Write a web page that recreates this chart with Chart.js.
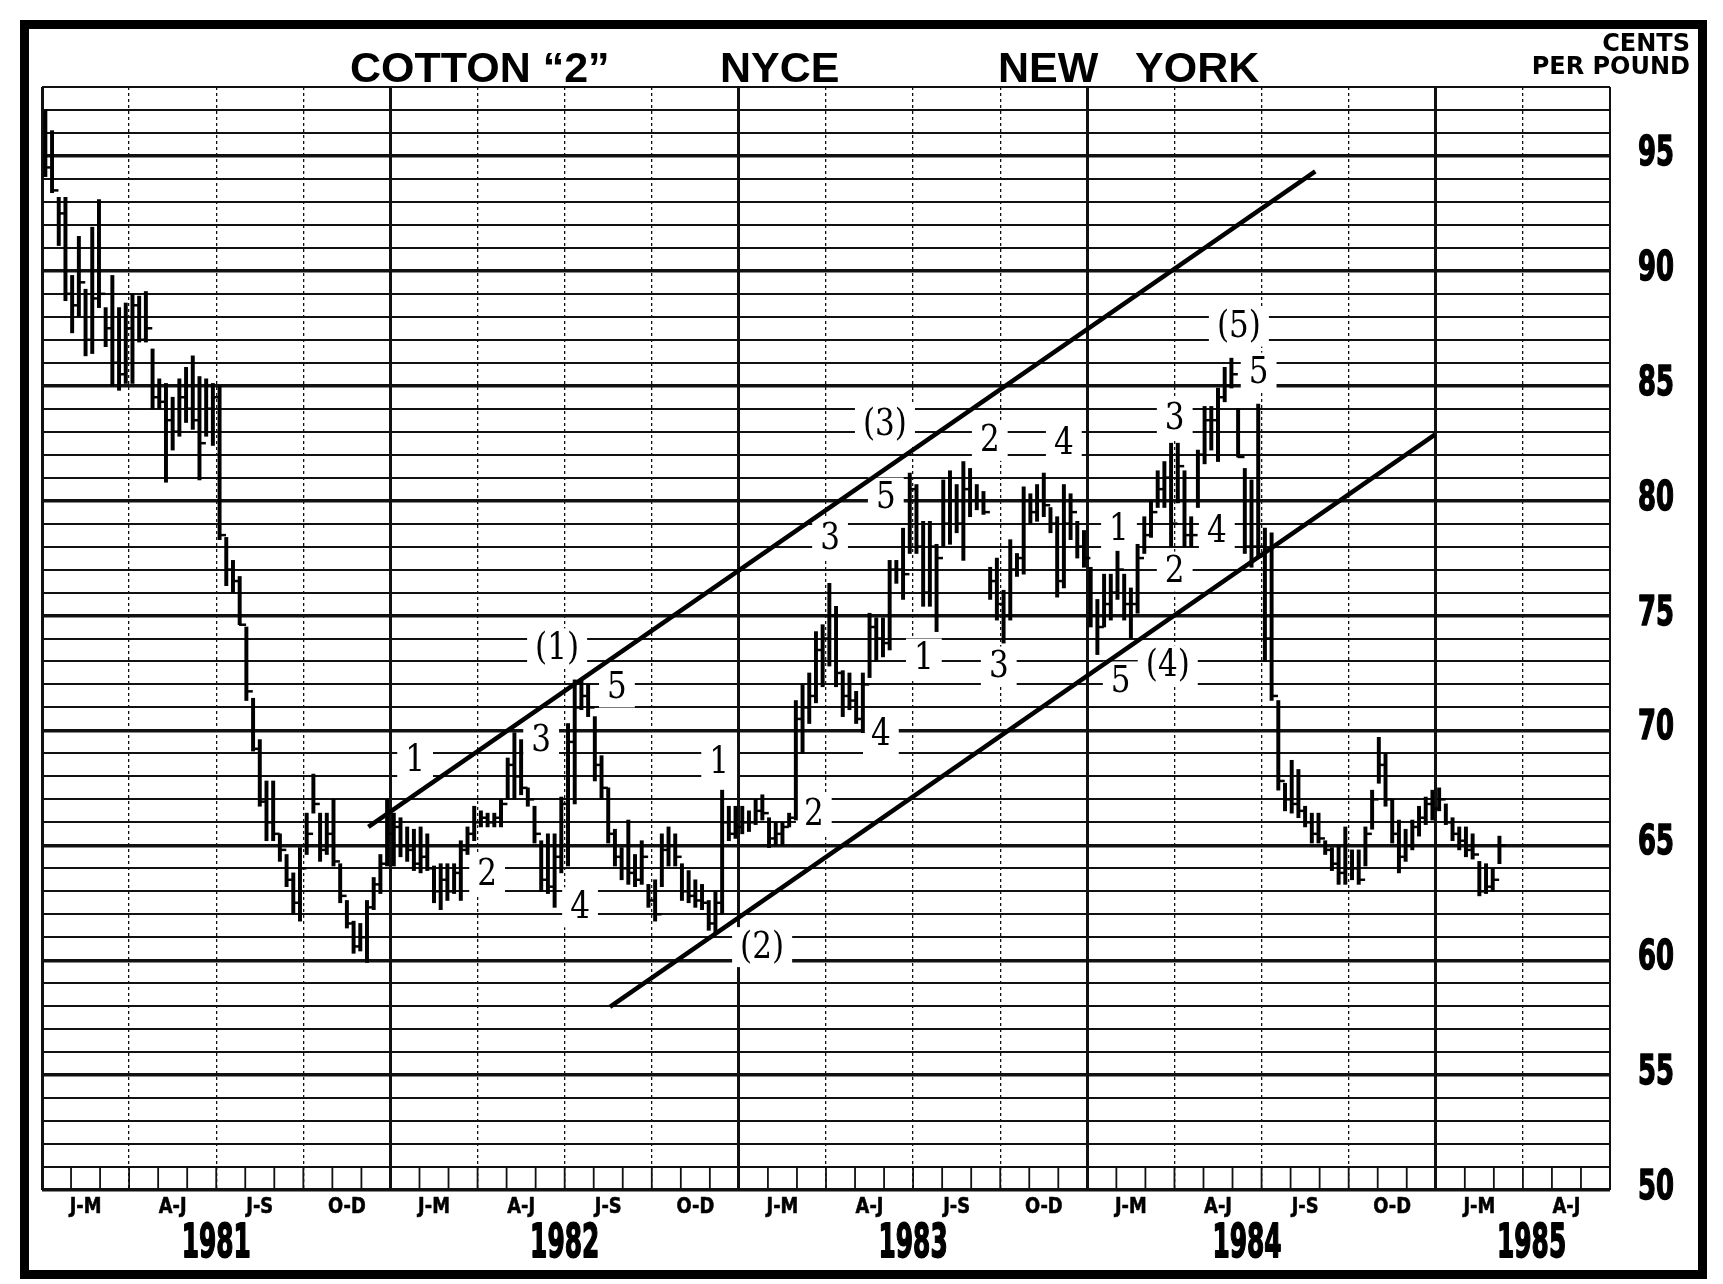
<!DOCTYPE html>
<html>
<head>
<meta charset="utf-8">
<title>Cotton "2" NYCE New York</title>
<script src="https://cdn.jsdelivr.net/npm/chart.js@4.4.1/dist/chart.umd.min.js"></script>
<style>
  html, body { margin: 0; padding: 0; background: #fff; }
  #wrap { position: relative; width: 1723px; height: 1284px; overflow: hidden; background: #fff; }
  #frame { position: absolute; left: 20px; top: 20px; width: 1687px; height: 1259px; box-sizing: border-box; border: 9px solid #000; }
  #chart { position: absolute; left: 0; top: 0; }
  .title { position: absolute; top: 46px; font: bold 43px "Liberation Sans", Arial, sans-serif; line-height: 43px; white-space: pre; color: #000; }
  #units { position: absolute; right: 33px; top: 32px; text-align: right; font: bold 24px "DejaVu Sans", sans-serif; line-height: 23px; color: #000; }
</style>
</head>
<body>
<div id="wrap">
  <div id="frame"></div>
  <canvas id="chart" width="1723" height="1284"></canvas>
  <div class="title" style="left:350px">COTTON “2”</div>
  <div class="title" style="left:720px">NYCE</div>
  <div class="title" style="left:998px">NEW</div>
  <div class="title" style="left:1135px">YORK</div>
  <div id="units">CENTS<br>PER POUND</div>
</div>
<script>
// weekly bars, first week of Jan 1981 onwards (13 weeks per quarter)
const highs = [
  97.0, 96.1, 93.2, 93.2, 89.8, 91.5, 89.2, 91.9, 93.1, 88.4, 89.8, 88.4, 88.6, // 81 J-M
  89.0, 88.9, 89.1, 86.6, 85.3, 85.1, 84.5, 85.3, 85.8, 86.3, 85.4, 85.3, 85.1, // 81 A-J
  85.0, 78.4, 77.4, 76.7, 74.5, 71.4, 69.6, 67.8, 67.8, 65.5, 64.6, 63.8, 64.9, // 81 J-S
  66.4, 68.1, 66.4, 66.4, 67.0, 64.2, 62.6, 61.7, 61.6, 62.6, 63.6, 64.6, 67.0, // 81 O-D
  66.4, 66.2, 65.8, 65.7, 65.8, 65.5, 64.1, 64.2, 64.2, 64.2, 65.2, 65.8, 66.7, // 82 J-M
  66.5, 66.4, 66.4, 67.0, 68.8, 69.9, 69.6, 67.5, 66.7, 65.2, 65.5, 65.5, 67.1, // 82 A-J
  70.3, 72.2, 72.2, 72.0, 70.6, 68.9, 67.5, 65.7, 64.9, 66.1, 64.6, 65.2, 63.3, // 82 J-S
  63.5, 65.5, 65.8, 65.5, 64.2, 63.9, 63.5, 63.3, 62.6, 63.0, 67.4, 66.7, 66.7, // 82 O-D
  66.7, 66.5, 67.0, 67.2, 66.2, 66.0, 66.0, 66.4, 71.3, 72.0, 72.5, 74.3, 74.6, // 83 J-M
  76.4, 75.4, 72.6, 72.5, 71.7, 72.5, 75.1, 74.9, 74.9, 77.4, 77.4, 78.8, 81.2, // 83 A-J
  80.7, 79.1, 79.1, 78.1, 80.9, 81.3, 80.7, 81.7, 81.4, 80.7, 80.4, 77.1, 77.5, // 83 J-S
  76.1, 78.3, 77.7, 80.6, 80.3, 80.7, 81.2, 79.7, 79.3, 80.7, 80.3, 79.1, 78.7, // 83 O-D
  77.1, 75.7, 76.8, 76.8, 77.8, 76.8, 76.2, 78.1, 79.3, 80.0, 81.3, 81.7, 82.5, // 84 J-M
  82.5, 81.3, 79.3, 82.2, 84.1, 84.1, 84.9, 85.8, 86.2, 84.0, 81.4, 80.9, 84.2, // 84 A-J
  78.8, 78.6, 71.3, 67.7, 68.7, 68.3, 66.7, 66.4, 66.4, 65.2, 64.9, 65.0, 65.8, // 84 J-S
  64.8, 64.8, 65.8, 67.4, 69.7, 69.0, 67.0, 66.1, 65.7, 66.1, 66.7, 67.1, 67.4, // 84 O-D
  67.5, 66.8, 66.2, 65.8, 65.8, 65.5, 64.3, 64.2, 64.0, 65.4                    // 85 J-M
];
const lows = [
  94.1, 93.4, 91.1, 88.7, 87.3, 88.0, 86.3, 86.4, 88.4, 86.7, 85.0, 84.8, 85.1,
  85.1, 86.9, 86.9, 84.0, 84.0, 80.8, 82.2, 82.8, 83.4, 83.1, 80.9, 82.8, 82.4,
  78.3, 76.3, 76.0, 74.6, 71.3, 69.1, 66.7, 65.2, 65.2, 64.3, 63.2, 62.0, 61.7,
  64.6, 66.4, 64.3, 64.6, 64.1, 62.5, 61.4, 60.3, 60.4, 59.9, 62.2, 62.9, 64.1,
  64.1, 64.5, 64.3, 63.9, 63.8, 63.9, 62.5, 62.2, 62.6, 62.9, 62.6, 64.6, 65.2,
  65.8, 65.8, 65.8, 65.8, 67.0, 67.0, 67.2, 66.7, 65.1, 63.0, 62.9, 62.3, 63.8,
  64.1, 66.8, 70.9, 70.6, 67.8, 67.0, 65.1, 64.1, 63.5, 63.3, 63.2, 63.3, 62.3,
  61.7, 63.2, 64.1, 64.1, 62.6, 62.5, 62.3, 62.2, 61.3, 61.2, 62.0, 65.2, 65.3,
  65.5, 65.6, 65.9, 66.1, 64.9, 65.0, 65.0, 65.8, 66.1, 69.0, 70.3, 71.2, 71.9,
  72.8, 71.9, 70.6, 70.9, 70.3, 69.9, 72.3, 73.0, 73.2, 73.5, 76.4, 75.7, 77.7,
  77.7, 75.4, 75.4, 74.3, 78.0, 78.1, 78.6, 77.4, 79.3, 79.6, 79.4, 75.7, 74.8,
  73.8, 74.8, 76.7, 76.8, 79.0, 79.1, 79.3, 78.6, 75.8, 76.2, 78.3, 77.5, 77.1,
  74.5, 73.3, 74.5, 74.8, 75.7, 74.8, 74.0, 75.1, 77.7, 78.4, 79.7, 79.7, 78.0,
  79.9, 78.0, 78.0, 79.7, 81.6, 82.2, 81.7, 84.3, 84.9, 81.9, 77.7, 77.1, 77.5,
  73.0, 71.3, 67.4, 66.5, 66.4, 66.2, 65.8, 65.1, 65.1, 64.6, 63.9, 63.3, 63.3,
  63.5, 63.3, 64.1, 65.7, 67.7, 66.7, 65.1, 63.8, 64.3, 64.8, 65.4, 65.9, 66.1,
  66.5, 65.9, 65.2, 64.8, 64.5, 64.4, 62.8, 62.9, 63.0, 64.2
];
const closes = [
  94.5, 93.5, 92.5, 89.0, 88.5, 89.5, 87.0, 88.8, 89.0, 87.5, 86.0, 85.5, 87.5,
  88.5, 87.0, 87.5, 84.5, 84.3, 83.5, 83.0, 84.5, 84.0, 83.5, 82.5, 84.0, 84.5,
  78.5, 77.0, 76.5, 74.6, 71.7, 69.2, 66.9, 66.0, 65.5, 64.8, 63.5, 62.5, 64.0,
  65.5, 66.8, 64.8, 65.5, 64.3, 62.8, 61.6, 60.6, 61.0, 62.3, 63.3, 64.2, 65.5,
  65.8, 65.0, 64.8, 64.2, 64.5, 64.0, 63.0, 63.5, 63.0, 63.8, 64.8, 65.5, 66.0,
  66.2, 66.0, 66.2, 66.8, 68.5, 68.0, 67.5, 67.0, 65.5, 63.5, 63.2, 64.5, 66.8,
  69.5, 71.0, 71.5, 71.0, 68.5, 67.5, 65.5, 64.5, 64.0, 63.8, 63.5, 64.5, 62.6,
  62.0, 64.8, 65.0, 64.5, 63.0, 62.8, 62.6, 62.5, 61.6, 62.5, 66.0, 65.5, 65.8,
  66.0, 66.0, 66.5, 66.4, 65.3, 65.5, 65.8, 66.2, 70.5, 71.0, 71.5, 73.5, 74.0,
  75.0, 72.5, 71.5, 71.3, 70.5, 72.0, 74.5, 74.0, 73.8, 77.0, 77.0, 76.8, 80.5,
  78.0, 76.0, 78.0, 77.5, 79.0, 80.0, 79.0, 80.5, 80.0, 80.0, 79.5, 76.5, 75.5,
  75.0, 77.0, 77.5, 80.0, 79.5, 80.0, 79.8, 79.0, 76.5, 79.0, 79.5, 78.0, 77.5,
  75.0, 74.5, 75.5, 76.0, 77.0, 75.5, 75.5, 77.5, 78.5, 79.5, 80.5, 81.0, 79.0,
  81.5, 78.5, 78.5, 82.0, 83.5, 83.5, 84.5, 85.0, 85.5, 81.9, 78.0, 78.0, 78.0,
  74.0, 71.5, 67.8, 67.0, 66.8, 66.5, 66.0, 65.5, 65.3, 64.8, 64.2, 63.8, 64.0,
  64.0, 63.5, 65.5, 67.0, 68.5, 67.0, 65.5, 64.5, 65.0, 65.8, 66.2, 66.8, 66.6,
  67.0, 66.0, 65.5, 65.2, 64.8, 64.6, 63.0, 63.2, 63.5, 65.0
];

const quarterLabels = ["J-M", "A-J", "J-S", "O-D", "J-M", "A-J", "J-S", "O-D", "J-M", "A-J",
  "J-S", "O-D", "J-M", "A-J", "J-S", "O-D", "J-M", "A-J"];
const yearLabels = ["1981", "1982", "1983", "1984", "1985"];
const yearCentres = [6, 18, 30, 41.5, 51.3]; // months after Jan 1981
const priceLabels = [50, 55, 60, 65, 70, 75, 80, 85, 90, 95];

// channel lines: [month, cents]
const upperChannel = [[11.24, 65.8], [43.85, 94.33]];
const lowerChannel = [[19.56, 57.97], [47.97, 82.87]];

// wave counts: [text, month, cents]
const waveLabels = [
  ["1", 12.85, 68.7], ["2", 15.33, 63.74], ["3", 17.19, 69.57], ["(1)", 17.74, 73.57],
  ["5", 19.8, 71.87], ["4", 18.53, 62.3], ["1", 23.32, 68.6], ["2", 26.58, 66.35],
  ["(2)", 24.8, 60.57], ["3", 27.14, 78.35], ["4", 28.89, 69.83], ["5", 29.06, 80.13],
  ["(3)", 29.03, 83.3], ["1", 30.37, 73.13], ["2", 32.64, 82.6], ["3", 32.95, 72.78],
  ["4", 35.19, 82.48], ["1", 37.09, 78.74], ["2", 39.01, 76.91], ["5", 37.15, 72.13],
  ["(4)", 38.77, 72.83], ["3", 39.01, 83.57], ["4", 40.46, 78.65], ["(5)", 41.22, 87.57],
  ["5", 41.9, 85.57]
];

const weekX = i => (i + 0.5) * 12 / 52;
const rangeData = highs.map((h, i) => ({ x: weekX(i), y: [lows[i], h] }));
const closeData = closes.map((c, i) => ({ x: weekX(i) + 0.1, y: c }));

// squeezed heavy text, the old chart uses a condensed face
function narrowText(ctx, text, x, y, size, sx, heavy) {
  ctx.save();
  ctx.translate(x, y);
  ctx.scale(sx, 1);
  ctx.font = "bold " + size + "px 'DejaVu Sans', sans-serif";
  ctx.textAlign = "center";
  ctx.textBaseline = "alphabetic";
  ctx.fillStyle = "#000";
  ctx.fillText(text, 0, 0);
  if (heavy) {
    ctx.strokeStyle = "#000";
    ctx.lineWidth = heavy;
    ctx.lineJoin = "round";
    ctx.strokeText(text, 0, 0);
  }
  ctx.restore();
}

// month marks in the strip between 50 and 51
const monthTicks = {
  id: "monthTicks",
  beforeDatasetsDraw(chart) {
    const { ctx, scales: { x, y } } = chart;
    ctx.save();
    ctx.strokeStyle = "#111";
    ctx.lineWidth = 1.8;
    for (let m = 0; m <= 54; m++) {
      const px = x.getPixelForValue(m);
      ctx.beginPath();
      ctx.moveTo(px, y.getPixelForValue(50));
      ctx.lineTo(px, y.getPixelForValue(51));
      ctx.stroke();
    }
    ctx.restore();
  }
};

const waveText = {
  id: "waveText",
  beforeDatasetsDraw(chart) {
    const { ctx, scales: { x, y } } = chart;
    const sx = 0.84;
    ctx.save();
    ctx.font = "37px 'DejaVu Serif', serif";
    ctx.textAlign = "center";
    ctx.textBaseline = "middle";
    waveLabels.forEach(([t, m, v]) => {
      const px = x.getPixelForValue(m);
      const py = y.getPixelForValue(v);
      const w = ctx.measureText(t).width * sx + 16;
      ctx.fillStyle = "#fff";
      ctx.fillRect(px - w / 2, py - 20, w, 40);
      ctx.save();
      ctx.translate(px, py + 1);
      ctx.scale(sx, 1);
      ctx.fillStyle = "#000";
      ctx.fillText(t, 0, 0);
      ctx.restore();
    });
    ctx.restore();
  }
};

const axisText = {
  id: "axisText",
  afterDraw(chart) {
    const { ctx, scales: { x, y } } = chart;
    priceLabels.forEach(v => narrowText(ctx, String(v), 1656, y.getPixelForValue(v) + 9, 41, 0.63, 1.6));
    quarterLabels.forEach((t, k) => narrowText(ctx, t, x.getPixelForValue(1.5 + 3 * k), 1213, 21, 0.85, 0.6));
    yearLabels.forEach((t, k) => narrowText(ctx, t, x.getPixelForValue(yearCentres[k]), 1257, 46, 0.54, 1.8));
  }
};

new Chart(document.getElementById("chart"), {
  type: "bar",
  data: {
    datasets: [
      { type: "line", data: upperChannel.map(([x, y]) => ({ x, y })), borderColor: "#000",
        borderWidth: 4.5, pointRadius: 0, fill: false, tension: 0 },
      { type: "line", data: lowerChannel.map(([x, y]) => ({ x, y })), borderColor: "#000",
        borderWidth: 4.5, pointRadius: 0, fill: false, tension: 0 },
      { type: "line", data: closeData, showLine: false, pointStyle: "line", pointRadius: 3.5,
        pointBorderWidth: 2.5, pointBorderColor: "#000", borderColor: "#000" },
      { type: "bar", data: rangeData, backgroundColor: "#000", barThickness: 3.3,
        borderSkipped: false, grouped: false }
    ]
  },
  options: {
    responsive: false,
    devicePixelRatio: 1,
    animation: false,
    events: [],
    layout: { padding: { left: 42, top: 87, right: 0, bottom: 94 } },
    plugins: { legend: { display: false }, tooltip: { enabled: false } },
    scales: {
      x: {
        type: "linear", min: 0, max: 54, offset: false,
        afterBuildTicks: s => { s.ticks = []; for (let m = 0; m <= 54; m += 3) s.ticks.push({ value: m }); },
        afterFit: s => { s.height = 0; },
        ticks: { display: false, autoSkip: false },
        grid: {
          offset: false, drawTicks: false, color: "#111",
          lineWidth: c => !c.tick ? 1 : (c.tick.value % 12 === 0 ? 3 : (c.tick.value === 54 ? 2 : 1.3))
        },
        border: {
          display: false,
          dash: c => (c.tick && c.tick.value % 12 !== 0 && c.tick.value !== 54) ? [3, 3] : []
        }
      },
      y: {
        type: "linear", position: "right", min: 50, max: 98, beginAtZero: false,
        afterBuildTicks: s => { s.ticks = []; for (let v = 50; v <= 98; v++) s.ticks.push({ value: v }); },
        afterFit: s => { s.width = 113; },
        ticks: { display: false, autoSkip: false },
        grid: {
          drawTicks: false, color: "#111",
          lineWidth: c => !c.tick ? 1 : (c.tick.value % 5 === 0 ? 3.4 : 2)
        },
        border: { display: false }
      }
    }
  },
  plugins: [monthTicks, waveText, axisText]
});
</script>
</body>
</html>
